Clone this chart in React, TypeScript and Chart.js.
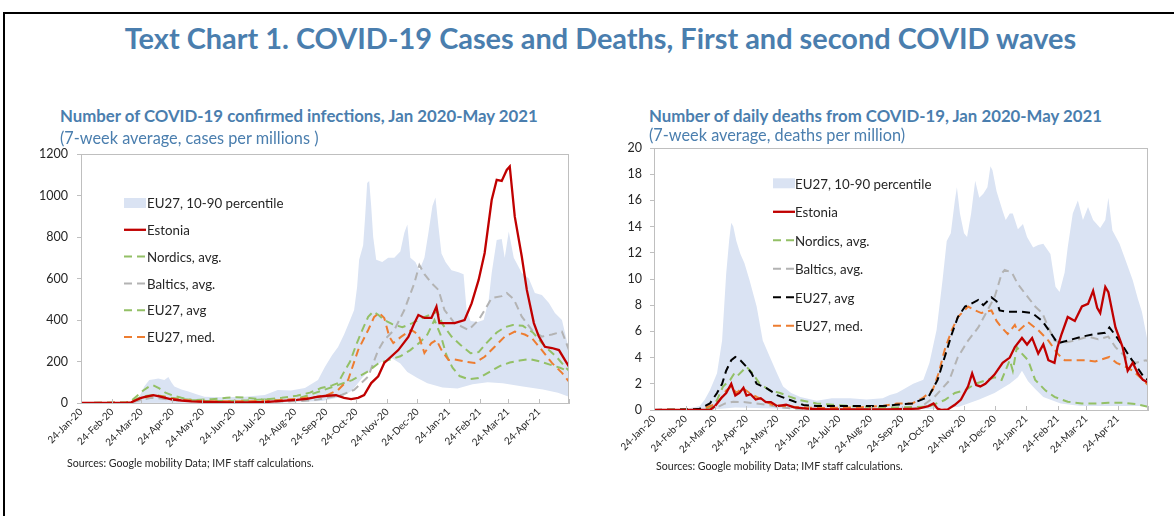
import React, { useEffect, useRef } from "react";
import { Chart, registerables } from "chart.js";

Chart.register(...registerables);

// ---------- shared x axis (days since 24-Jan-2020) ----------
const monthDays = [0, 31, 60, 91, 121, 152, 182, 213, 244, 274, 305, 335, 366, 397, 425, 456];
const monthLabels = [
  "24-Jan-20", "24-Feb-20", "24-Mar-20", "24-Apr-20", "24-May-20", "24-Jun-20", "24-Jul-20", "24-Aug-20",
  "24-Sep-20", "24-Oct-20", "24-Nov-20", "24-Dec-20", "24-Jan-21", "24-Feb-21", "24-Mar-21", "24-Apr-21",
];
const endDay = 486;

const legendLabels = ["EU27, 10-90 percentile", "Estonia", "Nordics, avg.", "Baltics, avg.", "EU27, avg", "EU27, med."];

// ---------- Panel 1: confirmed infections, cases per million ----------
const casesBandHiDays = [0,40,50,55,58,63,68,73,77,83,87,90,93,100,107,115,123,140,163,183,196,209,223,236,243,250,256,262,268,272,275,277,281,283,285,287,289,291,294,300,306,312,318,322,325,328,333,337,342,346,350,353,356,359,363,369,376,381,384,388,395,401,406,409,414,419,422,426,431,439,446,452,459,466,472,479,486];
const casesBandHi = [0,1,5,15,30,79,111,115,118,111,125,100,79,65,55,42,30,28,30,38,63,60,72,111,175,230,270,330,400,448,560,690,760,900,1060,1070,950,800,690,680,700,700,730,820,860,700,680,640,700,820,950,990,850,720,680,640,630,620,450,395,390,400,496,627,785,790,700,826,700,627,600,530,520,482,434,400,255];
const casesBandLoDays = [0,200,240,260,270,280,290,300,310,318,325,335,345,360,375,390,405,420,440,460,475,486];
const casesBandLo = [0,2,10,30,60,120,170,200,215,190,150,120,95,75,70,90,100,95,80,65,50,30];

const casesEstoniaDays = [0,45,50,54,60,66,72,78,84,90,100,110,125,145,165,185,200,215,225,235,245,254,262,269,276,282,289,296,302,316,326,332,336,342,349,354,357,364,372,382,389,396,402,409,414,419,424,427,432,439,444,451,456,462,469,476,482,486];
const casesEstonia = [0,0,3,12,25,32,38,32,25,18,12,8,5,3,3,5,10,15,20,30,35,38,25,19,25,38,96,129,193,255,318,385,424,410,410,464,385,385,385,400,480,593,723,978,1075,1070,1123,1140,898,705,545,385,320,271,265,255,207,175];

const casesNordicsDays = [0,45,52,58,66,74,82,90,100,115,130,145,155,165,180,195,210,225,240,255,270,285,296,308,318,328,337,345,352,358,364,370,377,386,396,407,417,427,437,447,457,467,477,486];
const casesNordics = [0,3,12,25,35,38,32,25,18,15,18,25,28,25,18,15,15,35,60,85,110,150,190,210,225,255,290,330,400,330,230,170,130,115,120,150,178,195,205,212,200,185,170,152];

const casesBalticsDays = [0,50,60,70,80,90,110,140,180,210,230,240,260,272,286,296,302,312,322,332,337,342,349,356,362,372,386,396,402,409,419,424,431,439,449,459,469,479,486];
const casesBaltics = [0,3,15,25,22,15,8,5,5,8,12,20,40,63,127,255,304,352,448,578,665,621,578,545,448,385,352,400,448,506,515,530,500,416,352,320,330,344,255];

const casesEUavgDays = [0,45,50,56,62,68,72,78,84,92,100,110,125,145,165,185,200,215,228,239,250,256,262,268,274,280,286,291,296,302,310,320,330,340,350,355,360,369,378,388,396,404,414,422,430,440,450,459,466,474,482,486];
const casesEUavg = [0,0,10,35,60,80,85,70,50,35,25,15,10,10,12,18,25,35,50,72,85,96,150,200,280,350,415,440,425,400,380,365,385,410,430,440,380,320,280,240,245,290,340,365,376,372,340,289,255,220,175,155];

const casesEUmedDays = [0,45,52,58,66,74,82,90,100,115,135,160,185,200,215,225,235,245,256,266,276,286,292,297,302,307,311,319,329,336,342,349,354,359,366,372,382,392,402,412,422,432,442,449,459,469,479,486];
const casesEUmed = [0,2,10,20,30,38,30,22,15,10,8,8,10,15,20,25,30,38,63,111,255,352,415,434,410,320,289,320,352,330,241,289,304,255,207,210,200,193,223,271,320,344,330,313,255,193,145,103];

// ---------- Panel 2: daily deaths, deaths per million ----------
const deathsBandHiDays = [0,30,45,50,55,62,67,71,74,76,78,81,85,89,94,101,107,114,121,127,135,144,160,175,193,209,225,232,239,246,255,265,271,278,284,288,292,296,298,301,305,308,312,316,320,324,328,331,333,337,343,346,350,353,358,363,367,373,378,383,390,395,399,404,407,412,417,422,427,432,439,444,447,451,458,465,471,476,480,486];
const deathsBandHi = [0,0.05,0.3,0.8,1.5,2.8,5.3,10.4,13,14.3,14,12.9,11.9,11.2,9.9,7.9,5.3,4.05,2.8,1.8,1.3,1,0.7,0.9,0.9,0.8,0.9,1.14,1.3,1.6,2,2.3,3.6,6.1,10,12.9,13.5,16,17,15,13.5,13.2,15,17.5,16.2,16.5,17,18.6,18.3,16.7,15.2,14.5,15,15,13.8,14.2,13.2,12.4,12.6,12.7,11.9,9.4,9,10.5,12.4,15,16,14.5,15.5,14.5,13.9,14.5,16.2,13.7,12.7,11.2,9.9,8.5,7.5,5.1];
const deathsBandLoDays = [0,60,80,100,150,250,280,300,320,335,350,358,362,368,375,383,400,420,486];
const deathsBandLo = [0,0.05,0.2,0.15,0.05,0.05,0.1,0.25,0.8,1.3,2,2.5,3,2.2,1.6,1,0.5,0.3,0.3];

const deathsEstoniaDays = [0,55,60,66,71,76,80,84,88,91,95,100,105,110,115,121,130,138,150,170,200,230,260,270,275,279,283,289,296,302,309,313,317,321,326,335,343,350,355,362,367,372,378,383,388,394,397,401,407,414,421,427,432,436,439,444,447,454,461,466,471,476,481,486];
const deathsEstonia = [0,0,0.3,0.9,1.3,2,1.1,1.3,1.7,1.1,1.2,0.8,0.9,0.6,0.6,0.3,0.4,0.2,0.1,0.05,0.05,0.05,0.1,0.3,0.5,0.1,0,0.05,0.4,0.8,1.8,2.8,1.9,1.8,2,2.7,3.6,4,4.8,5.5,5,5.5,4.3,5,3.8,3.6,4.8,5.8,7.1,6.8,7.9,8.1,9.1,7.8,7.4,9.4,9,6.3,4.8,3,3.6,2.8,2.3,2.1];

const deathsNordicsDays = [0,50,58,62,68,75,79,82,91,97,104,114,124,134,143,160,176,193,225,240,270,286,296,306,316,328,335,342,350,353,357,362,368,375,385,394,407,421,434,447,461,474,486];
const deathsNordics = [0,0.05,0.3,0.76,1.8,2.3,2.8,2.6,3.3,2.8,2,1.5,1.3,1,0.76,0.5,0.4,0.3,0.2,0.2,0.25,0.76,1.3,1.5,2,2.3,2.5,2.3,3.8,3,4.8,4.3,3.8,2.3,1.5,1,0.63,0.5,0.5,0.55,0.55,0.45,0.25];

const deathsBalticsDays = [0,55,62,70,78,90,100,110,125,140,170,230,255,263,276,290,293,299,309,319,328,335,342,345,352,358,368,375,382,388,394,401,414,427,437,447,454,464,474,484,486];
const deathsBaltics = [0,0.05,0.2,0.5,0.63,0.6,0.5,0.4,0.2,0.1,0.05,0.05,0.1,0.25,1,2.2,2.8,4.05,5.3,6.3,7.6,8.6,10.4,10.7,10.5,9.6,8.6,7.9,7.4,6.3,5.3,5.1,5.3,5.6,5.4,5.6,4.8,4.05,3.6,3.8,3.7];

const deathsEUavgDays = [0,40,45,55,62,67,71,76,80,85,91,96,101,111,121,134,147,160,193,225,238,254,270,279,286,293,299,306,312,319,324,332,337,340,348,362,372,382,391,397,407,421,434,444,448,455,462,468,475,482,486];
const deathsEUavg = [0,0.05,0.1,0.5,1.3,2,3,3.8,4.05,3.8,3.3,2.8,2,1.65,1.14,0.76,0.38,0.3,0.3,0.3,0.4,0.5,1,2.3,4.05,5.8,7.1,7.9,8.1,8.4,8,8.6,8.3,7.6,7.5,7.5,7.4,6.8,5.8,5.1,5.3,5.6,5.8,5.9,6.3,5.6,4.8,4.05,3.3,2.5,2.3];

const deathsEUmedDays = [0,45,55,62,67,71,76,81,87,94,101,107,117,127,143,170,200,225,239,254,264,274,280,286,293,299,309,316,322,332,337,342,348,355,358,368,378,388,397,404,414,424,434,448,455,464,471,481,486];
const deathsEUmed = [0,0.05,0.3,0.5,1,1.5,1.8,1.3,1.7,1.3,1,0.76,0.38,0.3,0.2,0.15,0.2,0.3,0.5,0.5,0.9,1.5,2.8,4.6,6.1,7.1,7.9,7.6,7.4,7.6,6.8,6.3,5.8,6.5,6,6.7,6.1,5.3,4.3,3.8,3.8,3.8,3.7,4.05,3.6,3.3,3,2.3,1.9];

// ---------- styles ----------
const BLUE_TITLE = "#4A7EAE";
const BAND = "#DAE3F3";
const RED = "#C00000";
const GREEN = "#93C066";
const GREY = "#B3B3B3";
const ORANGE = "#ED7D31";
const BLACK = "#000000";
const FRAME = "#BFBFBF";
const TEXT = "#262626";
const FONT = "Lato, 'Open Sans', sans-serif";
const DASH = [8, 5];

type LineSpec = { days: number[]; vals: number[]; color: string; dash: number[]; width: number; order: number };
type LegendSpec = { swatchX: number; swatchW: number; textX: number; top: number; gap: number; fontSize: number };
type PanelProps = {
  left: number; top: number; width: number; height: number;
  yAxisW: number; xAxisH: number; padTop: number; padRight: number;
  yMax: number; yStep: number; yPad: number;
  bandHiDays: number[]; bandHi: number[]; bandLoDays: number[]; bandLo: number[];
  lines: LineSpec[]; // order: Estonia, Nordics, Baltics, EU avg, EU med
  legend: LegendSpec;
};

const toPts = (days: number[], vals: number[]) => days.map((d, i) => ({ x: d, y: vals[i] }));

function Panel(p: PanelProps) {
  const ref = useRef<HTMLCanvasElement | null>(null);
  useEffect(() => {
    if (!ref.current) return;
    const datasets: any[] = [
      { data: toPts(p.bandHiDays, p.bandHi), borderWidth: 0, backgroundColor: BAND, fill: "+1", order: 20, pointRadius: 0 },
      { data: toPts(p.bandLoDays, p.bandLo), borderWidth: 0, backgroundColor: BAND, fill: false, order: 21, pointRadius: 0 },
      ...p.lines.map((l) => ({
        data: toPts(l.days, l.vals),
        borderColor: l.color,
        borderWidth: l.width,
        borderDash: l.dash,
        fill: false,
        order: l.order,
        pointRadius: 0,
      })),
    ];

    const framePlugin = {
      id: "frame",
      afterDraw(chart: any) {
        const { ctx, chartArea: ca, scales } = chart;
        ctx.save();
        ctx.strokeStyle = FRAME;
        ctx.lineWidth = 1;
        ctx.strokeRect(Math.round(ca.left) + 0.5, Math.round(ca.top) + 0.5, Math.round(ca.right - ca.left) - 1, Math.round(ca.bottom - ca.top));
        ctx.beginPath();
        [...monthDays, endDay].forEach((d) => {
          const x = Math.round(scales.x.getPixelForValue(d)) + 0.5;
          ctx.moveTo(x, ca.bottom);
          ctx.lineTo(x, ca.bottom - 4);
        });
        ctx.stroke();
        ctx.restore();

        // legend
        const lg = p.legend;
        const items = [
          { band: true, color: BAND, dash: [] as number[], width: 0 },
          ...p.lines.map((l) => ({ band: false, color: l.color, dash: l.dash, width: l.width })),
        ];
        ctx.save();
        ctx.font = `${lg.fontSize}px ${FONT}`;
        ctx.textBaseline = "middle";
        items.forEach((it, i) => {
          const y = ca.top + lg.top + i * lg.gap;
          const sx = ca.left + lg.swatchX;
          if (it.band) {
            ctx.fillStyle = BAND;
            ctx.fillRect(sx, y - 5, lg.swatchW, 10);
          } else {
            ctx.strokeStyle = it.color;
            ctx.lineWidth = it.width;
            ctx.setLineDash(it.dash);
            ctx.beginPath();
            ctx.moveTo(sx, y);
            ctx.lineTo(sx + lg.swatchW, y);
            ctx.stroke();
            ctx.setLineDash([]);
          }
          ctx.fillStyle = TEXT;
          ctx.fillText(legendLabels[i], ca.left + lg.textX, y + 1);
        });
        ctx.restore();
      },
    };

    const chart = new Chart(ref.current, {
      type: "line",
      data: { datasets },
      options: {
        animation: false,
        responsive: false,
        maintainAspectRatio: false,
        devicePixelRatio: 1,
        layout: { padding: { top: p.padTop, right: p.padRight, left: 0, bottom: 0 } },
        plugins: { legend: { display: false }, tooltip: { enabled: false }, title: { display: false } },
        elements: { point: { radius: 0 }, line: { tension: 0 } },
        scales: {
          x: {
            type: "linear",
            min: 0,
            max: endDay,
            afterBuildTicks: (s: any) => {
              s.ticks = monthDays.map((v) => ({ value: v }));
            },
            afterFit: (s: any) => {
              s.height = p.xAxisH;
            },
            ticks: {
              autoSkip: false,
              minRotation: 45,
              maxRotation: 45,
              padding: 3,
              color: TEXT,
              font: { family: FONT, size: 10 },
              callback: (v: any) => {
                const i = monthDays.indexOf(Number(v));
                return i >= 0 ? monthLabels[i] : "";
              },
            },
            grid: { display: false, drawTicks: false },
            border: { color: FRAME },
          },
          y: {
            min: 0,
            max: p.yMax,
            afterFit: (s: any) => {
              s.width = p.yAxisW;
            },
            ticks: {
              stepSize: p.yStep,
              padding: p.yPad,
              color: TEXT,
              font: { family: FONT, size: 12.5 },
              callback: (v: any) => String(v),
            },
            grid: { drawOnChartArea: false, drawTicks: true, tickLength: 4, color: FRAME },
            border: { color: FRAME },
          },
        },
      },
      plugins: [framePlugin],
    } as any);
    return () => chart.destroy();
  }, []);
  return (
    <canvas
      ref={ref}
      width={p.width}
      height={p.height}
      style={{ position: "absolute", left: p.left, top: p.top, width: p.width, height: p.height }}
    />
  );
}

const textStyle = (left: number, centerY: number, size: number, bold: boolean, color: string, lh = 20): React.CSSProperties => ({
  position: "absolute",
  left,
  top: centerY - lh / 2,
  height: lh,
  lineHeight: `${lh}px`,
  fontFamily: FONT,
  fontSize: size,
  fontWeight: bold ? 700 : 400,
  color,
  whiteSpace: "nowrap",
});

export default function App() {
  return (
    <div style={{ position: "absolute", left: 0, top: 0, width: 1174, height: 516, overflow: "hidden", background: "#fff" }}>
      <div style={{ position: "absolute", left: 3, top: 12, width: 1300, height: 600, borderTop: "2px solid #000", borderLeft: "2px solid #000" }} />
      <div style={{ ...textStyle(0, 38, 28.9, true, BLUE_TITLE, 34), width: 1201, textAlign: "center" }}>
        Text Chart 1. COVID-19 Cases and Deaths, First and second COVID waves
      </div>

      <Panel
        left={10} top={137} width={580} height={343}
        yAxisW={71} xAxisH={77} padTop={17} padRight={21}
        yMax={1200} yStep={200} yPad={9}
        bandHiDays={casesBandHiDays} bandHi={casesBandHi} bandLoDays={casesBandLoDays} bandLo={casesBandLo}
        lines={[
          { days: casesEstoniaDays, vals: casesEstonia, color: RED, dash: [], width: 2.3, order: 1 },
          { days: casesNordicsDays, vals: casesNordics, color: GREEN, dash: DASH, width: 2, order: 4 },
          { days: casesBalticsDays, vals: casesBaltics, color: GREY, dash: DASH, width: 2, order: 5 },
          { days: casesEUavgDays, vals: casesEUavg, color: GREEN, dash: DASH, width: 2, order: 3 },
          { days: casesEUmedDays, vals: casesEUmed, color: ORANGE, dash: DASH, width: 2, order: 2 },
        ]}
        legend={{ swatchX: 43, swatchW: 22, textX: 66, top: 49, gap: 26.8, fontSize: 13.3 }}
      />

      <Panel
        left={596} top={131} width={578} height={349}
        yAxisW={58} xAxisH={70} padTop={17} padRight={26}
        yMax={20} yStep={2} yPad={8}
        bandHiDays={deathsBandHiDays} bandHi={deathsBandHi} bandLoDays={deathsBandLoDays} bandLo={deathsBandLo}
        lines={[
          { days: deathsEstoniaDays, vals: deathsEstonia, color: RED, dash: [], width: 2.3, order: 1 },
          { days: deathsNordicsDays, vals: deathsNordics, color: GREEN, dash: DASH, width: 2, order: 4 },
          { days: deathsBalticsDays, vals: deathsBaltics, color: GREY, dash: DASH, width: 2, order: 5 },
          { days: deathsEUavgDays, vals: deathsEUavg, color: BLACK, dash: DASH, width: 2, order: 2 },
          { days: deathsEUmedDays, vals: deathsEUmed, color: ORANGE, dash: DASH, width: 2, order: 3 },
        ]}
        legend={{ swatchX: 119, swatchW: 22, textX: 141, top: 35.3, gap: 28.5, fontSize: 13.3 }}
      />

      <div style={textStyle(60, 116, 16.8, true, BLUE_TITLE)}>
        Number of COVID-19 confirmed infections, Jan 2020-May 2021
      </div>
      <div style={textStyle(60, 138, 16.3, false, BLUE_TITLE)}>(7-week average, cases per millions )</div>
      <div style={textStyle(649, 116, 16.8, true, BLUE_TITLE)}>
        Number of daily deaths from COVID-19, Jan 2020-May 2021
      </div>
      <div style={textStyle(649, 135, 16.3, false, BLUE_TITLE)}>(7-week average, deaths per million)</div>

      <div style={textStyle(67, 463, 10.6, false, TEXT, 14)}>Sources: Google mobility Data; IMF staff calculations.</div>
      <div style={textStyle(656, 466, 10.6, false, TEXT, 14)}>Sources: Google mobility Data; IMF staff calculations.</div>
    </div>
  );
}
